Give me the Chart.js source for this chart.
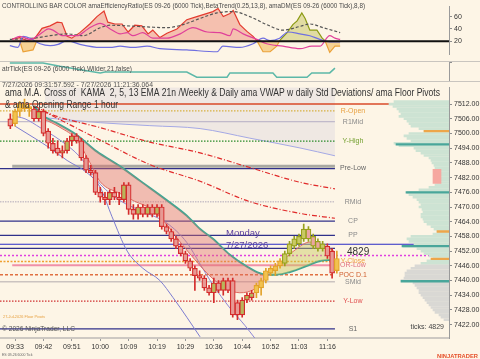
<!DOCTYPE html>
<html>
<head>
<meta charset="utf-8">
<script src="https://cdn.jsdelivr.net/npm/chart.js@4.4.0/dist/chart.umd.min.js"></script>
<style>
  html, body { margin: 0; padding: 0; background: #fdf5e6; }
  #wrap { position: relative; width: 480px; height: 359px; overflow: hidden; background: #fdf5e6; }
  canvas { position: absolute; left: 0; }
  .sep { position: absolute; left: 0; width: 480px; height: 1px; background: #c9c5bf; z-index: 2; }
</style>
</head>
<body>
<div id="wrap">
  <canvas id="indCanvas" width="480" height="61" style="top:0"></canvas>
  <div class="sep" style="top:61px"></div>
  <canvas id="atrCanvas" width="480" height="19" style="top:62px"></canvas>
  <div class="sep" style="top:81px"></div>
  <canvas id="mainCanvas" width="480" height="278" style="top:81px"></canvas>
</div>
<script>
const FONT = "'Liberation Sans', Arial, sans-serif";

// x is the bar number (one bar = 6000 ticks)
const xMin = -2.18;
const xMax = 92.7;
const sessionEndBar = 68.6;
const levelLabelBar = 72.4;

const xTickBars = [1, 7, 13, 19, 25, 31, 37, 43, 49, 55, 61, 67];
const xTickLabels = ['09:33', '09:42', '09:51', '10:00', '10:09', '10:19', '10:29', '10:36', '10:44', '10:52', '11:03', '11:16'];
const priceTicks = [7422, 7428, 7434, 7440, 7446, 7452, 7458, 7464, 7470, 7476, 7482, 7488, 7494, 7500, 7506, 7512];
const indicatorTicks = [20, 40, 60];

// candles
const opens  = [7506, 7504, 7509, 7512, 7510, 7510, 7506, 7509, 7501, 7496, 7494, 7492, 7493, 7497, 7499, 7497, 7490, 7485, 7484, 7476,
                7474, 7473, 7476, 7474, 7473, 7479, 7469, 7467, 7470, 7467, 7470, 7467, 7470, 7462, 7460, 7457, 7454, 7451, 7448, 7445,
                7442, 7441, 7437, 7435, 7439, 7436, 7440, 7440, 7431, 7426, 7432, 7433, 7435, 7437, 7440, 7443, 7444, 7446, 7447, 7451,
                7454, 7455, 7457, 7461, 7458, 7456, 7453, 7454, 7452, 7444];
const highs  = [7508, 7510, 7513, 7514, 7512, 7511, 7510, 7510, 7502, 7498, 7497, 7495, 7498, 7500, 7500, 7498, 7491, 7487, 7485, 7478,
                7476, 7477, 7478, 7476, 7480, 7480, 7471, 7471, 7471, 7471, 7471, 7471, 7471, 7463, 7461, 7458, 7455, 7452, 7449, 7446,
                7444, 7442, 7438, 7441, 7440, 7441, 7441, 7441, 7432, 7433, 7435, 7436, 7439, 7441, 7445, 7446, 7447, 7449, 7452, 7456,
                7458, 7459, 7463, 7462, 7459, 7457, 7456, 7455, 7453, 7452];
const lows   = [7502, 7503, 7507, 7509, 7507, 7505, 7505, 7499, 7494, 7492, 7491, 7490, 7492, 7495, 7496, 7489, 7484, 7483, 7475, 7472,
                7471, 7471, 7473, 7471, 7472, 7467, 7465, 7465, 7466, 7466, 7466, 7466, 7461, 7459, 7456, 7453, 7450, 7447, 7444, 7436,
                7440, 7436, 7434, 7431, 7435, 7434, 7435, 7425, 7424, 7425, 7431, 7432, 7433, 7434, 7439, 7442, 7442, 7445, 7446, 7450,
                7453, 7454, 7456, 7456, 7453, 7452, 7452, 7449, 7441, 7443];
const closes = [7503, 7509, 7512, 7510, 7511, 7506, 7509, 7500, 7496, 7493, 7492, 7493, 7497, 7499, 7497, 7490, 7485, 7484, 7476, 7474,
                7473, 7476, 7474, 7473, 7479, 7469, 7467, 7470, 7467, 7470, 7467, 7470, 7462, 7460, 7457, 7454, 7451, 7448, 7445, 7442,
                7441, 7437, 7435, 7439, 7436, 7440, 7436, 7426, 7426, 7432, 7434, 7435, 7438, 7440, 7444, 7445, 7446, 7448, 7451, 7455,
                7457, 7458, 7461, 7457, 7454, 7453, 7455, 7450, 7443, 7449];
// controlling bar colour: r = red, g = gold, o = olive
const barMode = ['r','g','g','g','g','r','r','r','r','r','r','r','r','r','r','r','r','r','r','r',
                 'r','r','r','r','r','r','r','r','r','r','r','r','r','r','r','r','r','r','r','r',
                 'r','r','r','r','r','r','r','r','r','r','r','r','g','g','g','g','g','g','o','o',
                 'o','o','o','o','o','o','o','r','r','g'];

// KAMA 21 (teal) and fast average
const emaBars   = [5.0, 6.9, 9.9, 14.1, 18.3, 23.2, 27.4, 33.1, 37.3, 40.1, 42.8, 46.4, 50.0, 53.4, 56.3, 59.1, 62.7, 65.4, 68.2];
const emaValues = [7511.2, 7507.2, 7504.1, 7499.3, 7492.6, 7486.6, 7480.7, 7472.7, 7466.4, 7461, 7457, 7450.5, 7445.7, 7442.6, 7442.4, 7443.5, 7446, 7448, 7448.5];
const fastBars   = [7.0, 10.5, 14.1, 16.8, 19.0, 23.2, 26.3, 29.5, 32.7, 35.9, 39.0, 42.2, 45.4, 48.5, 51.7, 53.8, 56.9, 60.2, 63.3, 66.5, 68.6];
const fastValues = [7506, 7502.5, 7497.3, 7488.2, 7480.3, 7475.5, 7472.3, 7469.5, 7463.6, 7455.7, 7448.5, 7441.8, 7437, 7435, 7436.6, 7440.6, 7446.9, 7452.5, 7455.7, 7454.1, 7451.7];

// VWAP bands
const bandUpBars   = [7.3, 19.0, 29.5, 40.1, 50.6, 61.2, 68.6];
const bandUpValues = [7506.4, 7504.4, 7503.2, 7502.0, 7498.1, 7494.1, 7490.9];
const bandLo1Bars   = [0.4, 3.1, 6.3, 10.5, 14.7, 19.0, 23.2, 27.4, 33.1, 37.3, 40.1, 42.8, 46.4, 49.6, 51.7];
const bandLo1Values = [7507.2, 7506.0, 7502.4, 7497.3, 7490.5, 7479.3, 7472.6, 7468.6, 7463.4, 7455.5, 7446.7, 7438.3, 7428.8, 7421.6, 7416.4];
const bandLo2Bars   = [1.0, 5.2, 8.4, 12.0, 16.2, 19.0, 21.5, 24.7, 28.0, 31.6, 34.4, 37.3, 40.1];
const bandLo2Values = [7503, 7498, 7494, 7489, 7484, 7478, 7466, 7452, 7445, 7440, 7433, 7425, 7417];
const devUpBars   = [5.2, 8.4, 19.0, 29.5, 40.1, 50.6, 61.2, 68.6];
const devUpValues = [7511.2, 7508.0, 7502.4, 7496.5, 7492.1, 7486.1, 7480.1, 7477.4];
const devLoBars   = [6.9, 19.0, 29.5, 40.1, 50.6, 61.2, 68.6];
const devLoValues = [7509.2, 7497.3, 7487.3, 7480.5, 7472.2, 7467.4, 7465.4];

// floor pivots and session levels
const levelNames  = ['', 'R-Open', 'R1Mid', 'Y-High', '', 'Pre-Low', 'RMid', 'CP', 'PP', '', '', '', 'Y-Close', 'OR-Low', 'POC D.1', 'SMid', 'Y-Low', 'S1'];
const levelPrices = [7512, 7509.2, 7504.8, 7496.9, 7486.6, 7485.7, 7472.1, 7464.2, 7458.4, 7454.8, 7453.1, 7450.2, 7447.8, 7446.2, 7442.4, 7439.5, 7431.6, 7420.3];

// volume profile, one row per point from the top
const profileTop = 7513;
const profileVolumes = [55, 60, 56, 52, 50, 48, 50, 45, 42, 40, 38, 30, 25, 40, 45, 42, 38, 55, 50, 35,
                        33, 28, 25, 20, 18, 17, 15, 14, 15, 14, 12, 10, 10, 12, 14, 20, 30, 42, 40, 36,
                        32, 30, 28, 30, 27, 26, 28, 28, 26, 25, 22, 18, 15, 12, 16, 38, 42, 40, 35, 46,
                        32, 28, 25, 20, 16, 22, 28, 34, 38, 42, 44, 44, 45, 48, 36, 34, 32, 30, 30, 28,
                        26, 24, 22, 20, 18, 16, 14, 10, 8, 5];
const valueAreaLow = 7447;
const pocPrices = [7495.6, 7476, 7454, 7439.7];
const pocVolumes = [53, 43, 47, 48];
const hvnPrices = [7501, 7460, 7448.8];
const hvnVolumes = [25, 12, 18];

// top panel: efficiency ratio / DM
const erBars   = [0.4, 2.0, 3.5, 5.2, 6.7, 8.4, 9.9, 10.9, 12.0, 13.0, 14.7, 16.8, 18.3, 19.8, 20.6, 22.1, 23.6, 24.9, 26.3, 27.8,
                  29.1, 30.1, 31.6, 33.1, 35.2, 37.3, 39.4, 42.8, 43.9, 45.0, 46.4, 47.1, 48.5, 50.0, 51.3, 52.1];
const erValues = [24, 26, 21, 25, 41, 45, 51, 50, 28, 25, 34, 48, 60, 69, 51, 48, 48, 35, 46, 45,
                  32, 38, 26, 33, 40, 55, 60, 68, 73, 60, 65, 70, 47, 36, 28, 21];
const dmBars   = [2.0, 2.7, 4.8, 5.6, 30, 52.1, 53.4, 54.9, 56.3, 56.9, 58.5, 59.7, 60.6, 61.6, 62.3, 63.3, 64.8, 65.9, 66.5, 67.5, 68.6, 69.7];
const dmValues = [20, 3, 6, 21, null, 21, 3, 3, 12, 21, 34, 47, 53, 66, 57, 38, 38, 25, 21, 2, 12, 12];
const pdiBars   = [0.4, 2.0, 4.2, 5.6, 6.9, 8.0, 9.0, 11.1, 14.1, 16.4, 19.0, 21.1, 23.2, 24.7, 25.9, 28.0, 30.1, 33.1, 35.9, 38.6,
                   41.6, 44.3, 46.4, 47.1, 49.2, 52.1, 54.2, 57.6, 61.2, 63.7, 65.4, 67.5, 68.6, 69.7];
const pdiValues = [23, 28, 23, 28, 35, 40, 38, 29, 29, 40, 49, 40, 32, 34, 29, 34, 25, 25, 32, 42,
                   35, 34, 29, 40, 32, 23, 16, 12, 8, 12, 12, 29, 25, 23];
const mdiBars   = [-0.1, 1.6, 2.7, 4.2, 6.3, 8.4, 10.1, 12.0, 14.7, 19.0, 21.1, 23.2, 25.9, 28.9, 31.6, 37.3, 43.7, 44.9, 48.5, 51.3,
                   53.4, 54.9, 56.9, 58.7, 61.2, 63.3, 65.4, 67.5, 69.7];
const mdiValues = [13, 10, 28, 25, 16, 13, 15, 21, 15, 10, 10, 12, 10, 12, 8, 6, 3, 12, 10, 16,
                   25, 21, 25, 35, 32, 29, 23, 19, 19];
const adxBars   = [-0.1, 4.8, 8.4, 12.0, 15.4, 19.0, 21.1, 24.7, 29.5, 33.1, 36.5, 40.1, 43.7, 47.1, 50.6, 54.2, 57.6, 61.2, 63.3, 66.1, 69.7];
const adxValues = [23, 25, 29, 32, 29, 42, 46, 45, 43, 42, 47, 57, 66, 68, 60, 47, 38, 44, 48, 42, 34];

// atr panel
const atrBars   = [-0.1, 6.9, 10.5, 15.8, 19.0, 20.0, 21.1, 37.3, 39.4, 45.8, 46.4, 55.5, 56.3, 62.7, 63.7, 67.5, 68.6];
const atrValues = [16.8, 16.8, 16.1, 15.2, 14.7, 14.9, 14.9, 14.9, 13.8, 13.8, 14.7, 14.7, 13.8, 13.8, 14.7, 14.7, 15.7];

Chart.defaults.font.family = FONT;
Chart.defaults.animation = false;
Chart.defaults.events = [];

const palette = {
  r: { border: '#d42c2c', up: '#b9b55a', down: '#e79a94' },
  g: { border: '#e2a22a', up: '#f2c24e', down: '#eab04a' },
  o: { border: '#98a01c', up: '#c9c964', down: '#eaa6a0' }
};

function pts(xs, ys) { return xs.map((x, i) => ({ x: x, y: ys[i] })); }

function curve(xs, ys, extra) {
  return Object.assign({
    type: 'line', data: pts(xs, ys), pointRadius: 0, borderWidth: 1, fill: false,
    cubicInterpolationMode: 'monotone', spanGaps: false
  }, extra);
}

function rightAxis(extra) {
  return Object.assign({
    position: 'right', offset: false,
    afterFit: s => { s.width = 31; },
    grid: { drawOnChartArea: false, tickLength: 3, color: '#8c8c8c', offset: false },
    border: { color: '#9a9a9a' },
    ticks: { font: { size: 7 }, color: '#333', padding: 2 }
  }, extra);
}

function hiddenX() {
  return { type: 'linear', min: xMin, max: xMax, display: false, offset: false };
}

function textPlugin(id, items) {
  return {
    id: id,
    afterDatasetsDraw(chart) {
      const ctx = chart.ctx;
      ctx.save();
      items.forEach(t => {
        ctx.font = t.font;
        ctx.fillStyle = t.color;
        ctx.textAlign = t.align || 'left';
        ctx.textBaseline = 'middle';
        if (t.maxWidth) ctx.fillText(t.text, t.x, t.y, t.maxWidth);
        else ctx.fillText(t.text, t.x, t.y);
      });
      ctx.restore();
    }
  };
}

const baseOptions = {
  responsive: false,
  devicePixelRatio: 1,
  layout: { padding: 0 },
  plugins: { legend: { display: false }, tooltip: { enabled: false } }
};

// ---------- top indicator panel ----------
new Chart(document.getElementById('indCanvas'), {
  type: 'line',
  data: {
    datasets: [
      curve([xMin, xMax], [20, 20], { borderColor: '#111', borderWidth: 2, order: 0, cubicInterpolationMode: 'default' }),
      curve(pdiBars, pdiValues, { borderColor: '#e0409a', borderWidth: 1.2, order: 1 }),
      curve(mdiBars, mdiValues, { borderColor: '#6f6fe0', borderWidth: 1.2, order: 2 }),
      curve(adxBars, adxValues, { borderColor: '#555', borderWidth: 1.2, borderDash: [3, 2], order: 3 }),
      curve(erBars, erValues, {
        borderColor: '#e43a2e', borderWidth: 1.2, order: 4, cubicInterpolationMode: 'default',
        fill: { target: { value: 20 }, above: 'rgba(238,140,120,0.5)', below: 'rgba(0,0,0,0)' }
      }),
      curve(dmBars, dmValues, {
        borderWidth: 1.2, order: 5, cubicInterpolationMode: 'default',
        segment: { borderColor: c => ((c.p0.parsed.y + c.p1.parsed.y) / 2 >= 20 ? '#8c9a14' : '#eba23a') },
        fill: { target: { value: 20 }, above: 'rgba(190,190,80,0.45)', below: 'rgba(240,180,80,0.55)' }
      })
    ]
  },
  options: Object.assign({}, baseOptions, {
    scales: {
      x: hiddenX(),
      y: rightAxis({
        min: -1.9, max: 76.8,
        afterBuildTicks: s => { s.ticks = indicatorTicks.map(v => ({ value: v })); }
      })
    }
  }),
  plugins: [textPlugin('indText', [
    { text: 'CONTROLLING BAR COLOR amaEfficiencyRatio(ES 09-26 (6000 Tick),BetaTrend(0.25,13,8), amaDM(ES 09-26 (6000 Tick),8,8)',
      x: 2, y: 6, font: '7px ' + FONT, color: '#4a4a4a', maxWidth: 363 }
  ])]
});

// ---------- ATR panel ----------
new Chart(document.getElementById('atrCanvas'), {
  type: 'line',
  data: {
    datasets: [
      curve(atrBars, atrValues, { borderColor: '#5cb8a8', borderWidth: 1.5, cubicInterpolationMode: 'default' })
    ]
  },
  options: Object.assign({}, baseOptions, {
    scales: {
      x: hiddenX(),
      y: rightAxis({ min: 13, max: 17, ticks: { display: false } })
    }
  }),
  plugins: [textPlugin('atrText', [
    { text: 'atrTick(ES 09-26 (6000 Tick),Wilder,21,false)', x: 2, y: 7, font: '7px ' + FONT, color: '#4a4a4a', maxWidth: 130 }
  ])]
});

// ---------- price panel ----------
const levelStyles = [
  { color: '#d84a28', width: 1.5, to: xMax },
  { color: '#d8b040', width: 1.2, dash: [1.5, 1.5], label: '#e8a040' },
  { color: '#b4aec4', width: 1, label: '#8a8a8a' },
  { color: '#2a8a2a', width: 1.2, dash: [1.5, 1.5], label: '#74a030' },
  { color: '#a9a9a2', width: 3, from: 0.4 },
  { color: '#30308a', width: 1.2, label: '#666' },
  { color: '#cac2c8', width: 1.5, dash: [1.5, 1], label: '#8a8a8a' },
  { color: '#30308a', width: 1.2, label: '#8a8a8a' },
  { color: '#30308a', width: 1.2, label: '#8a8a8a' },
  { color: '#2a2ac4', width: 1.2, to: xMax },
  { color: '#30308a', width: 1.2 },
  { color: '#e040e0', width: 1.5, dash: [2, 2], to: xMax },
  { color: '#f0a030', width: 1.5, dash: [2, 1.5], label: '#f0a040' },
  { color: '#f090a8', width: 2, from: 0.4, label: '#e07080' },
  { color: '#e07040', width: 1.5, dash: [3, 2], label: '#d06030' },
  { color: '#cbc3c0', width: 1.5, label: '#8a8a8a' },
  { color: '#d03030', width: 1.2, dash: [1.5, 1.5], label: '#e05050' },
  { color: '#30308a', width: 1.2, label: '#666' }
];

const mainSets = [];

// candle bodies and wicks
mainSets.push({
  type: 'bar', order: 0, grouped: false, barThickness: 5, borderSkipped: false, borderWidth: 1.2,
  data: opens.map((o, i) => ({ x: i, y: [o, closes[i]] })),
  backgroundColor: opens.map((o, i) => closes[i] >= o ? palette[barMode[i]].up : palette[barMode[i]].down),
  borderColor: barMode.map(m => palette[m].border)
});
mainSets.push({
  type: 'bar', order: 1, grouped: false, barThickness: 1, borderWidth: 0,
  data: lows.map((l, i) => ({ x: i, y: [l, highs[i]] })),
  backgroundColor: barMode.map(m => palette[m].border)
});

// moving averages with cloud
const emaIndex = mainSets.length;
mainSets.push(curve(emaBars, emaValues, { borderColor: '#3aa696', borderWidth: 2, order: 3 }));
mainSets.push(curve(fastBars, fastValues, {
  borderColor: '#de6a62', borderWidth: 1, order: 2,
  fill: { target: emaIndex, above: 'rgba(200,200,90,0.45)', below: 'rgba(225,110,105,0.42)' }
}));

// volume profile
mainSets.push({
  type: 'bar', indexAxis: 'y', xAxisID: 'xv', yAxisID: 'y', order: 6, grouped: false, barThickness: 2, borderWidth: 0,
  data: profileVolumes.map((v, k) => ({ x: v, y: profileTop - k })),
  backgroundColor: profileVolumes.map((v, k) => (profileTop - k >= valueAreaLow ? '#cde3d3' : '#d9d8d4'))
});
mainSets.push({
  type: 'bar', indexAxis: 'y', xAxisID: 'xv', yAxisID: 'y', order: 5, grouped: false, barThickness: 1.6, borderWidth: 0,
  data: pts(pocVolumes, pocPrices), backgroundColor: '#49a69a'
});
mainSets.push({
  type: 'bar', indexAxis: 'y', xAxisID: 'xv', yAxisID: 'y', order: 5, grouped: false, barThickness: 1.6, borderWidth: 0,
  data: pts(hvnVolumes, hvnPrices), backgroundColor: '#eda64a'
});
mainSets.push({
  type: 'bar', indexAxis: 'y', xAxisID: 'xv', yAxisID: 'y', order: 5, grouped: false, barThickness: 14, borderWidth: 0,
  data: [{ x: [8, 16], y: 7482.5 }], backgroundColor: '#f6a8a0'
});

// vwap deviation lines and bands
mainSets.push(curve(devUpBars, devUpValues, { borderColor: '#e02a2a', borderWidth: 1.2, borderDash: [5, 2, 1, 2], order: 7 }));
mainSets.push(curve(devLoBars, devLoValues, { borderColor: '#e02a2a', borderWidth: 1.2, borderDash: [5, 2, 1, 2], order: 7 }));
mainSets.push(curve(bandLo1Bars, bandLo1Values, { borderColor: '#8c86d6', borderWidth: 1, order: 8 }));
mainSets.push(curve(bandLo2Bars, bandLo2Values, { borderColor: '#7c7cd0', borderWidth: 1, order: 8 }));
mainSets.push(curve(bandUpBars, bandUpValues, {
  borderColor: '#a4a8e4', borderWidth: 1, order: 10, fill: 'end', backgroundColor: '#efe8e3'
}));

// horizontal levels
levelPrices.forEach((p, k) => {
  const st = levelStyles[k];
  mainSets.push({
    type: 'line', order: 9, pointRadius: 0,
    data: [{ x: st.from !== undefined ? st.from : xMin, y: p }, { x: st.to !== undefined ? st.to : sessionEndBar, y: p }],
    borderColor: st.color, borderWidth: st.width, borderDash: st.dash || []
  });
});

const levelLabels = {
  id: 'levelLabels',
  afterDatasetsDraw(chart) {
    const ctx = chart.ctx, xs = chart.scales.x, ys = chart.scales.y;
    ctx.save();
    ctx.font = '7px ' + FONT;
    ctx.textAlign = 'center';
    ctx.textBaseline = 'middle';
    levelNames.forEach((name, k) => {
      if (!name) return;
      ctx.fillStyle = levelStyles[k].label || '#777';
      ctx.fillText(name, xs.getPixelForValue(levelLabelBar), ys.getPixelForValue(levelPrices[k]));
    });
    ctx.restore();
  }
};

new Chart(document.getElementById('mainCanvas'), {
  type: 'line',
  data: { datasets: mainSets },
  options: Object.assign({}, baseOptions, {
    scales: {
      x: {
        type: 'linear', min: xMin, max: xMax, offset: false, stacked: false,
        afterBuildTicks: s => { s.ticks = xTickBars.map(v => ({ value: v })); },
        afterFit: s => { s.height = 21; },
        grid: { drawOnChartArea: false, tickLength: 3, color: '#9a9a9a', offset: false },
        border: { color: '#cdc8c2', width: 2 },
        ticks: { autoSkip: false, maxRotation: 0, font: { size: 7 }, color: '#333', padding: 2,
                 callback: v => xTickLabels[xTickBars.indexOf(v)] }
      },
      xv: { type: 'linear', min: 0, max: 449, reverse: true, display: false, offset: false, stacked: false },
      y: rightAxis({
        min: 7416.54, max: 7518.89, stacked: false, beginAtZero: false,
        afterBuildTicks: s => { s.ticks = priceTicks.map(v => ({ value: v })); },
        ticks: { font: { size: 7 }, color: '#333', padding: 2, callback: v => v.toFixed(2) }
      })
    }
  }),
  plugins: [levelLabels, textPlugin('mainText', [
    { text: '7/27/2026 09:31:57.592 - 7/27/2026 11:21:36.064', x: 2, y: 4, font: '7.5px ' + FONT, color: '#555', maxWidth: 151 },
    { text: 'ama M.A. Cross of  KAMA  2, 5, 13 EMA 21n /Weekly & Daily ama VWAP w daily Std Deviations/ ama Floor Pivots',
      x: 5, y: 12, font: '10px ' + FONT, color: '#333', maxWidth: 435 },
    { text: '& ama Opening Range 1 hour', x: 5, y: 24, font: '10px ' + FONT, color: '#333', maxWidth: 113 },
    { text: 'Monday', x: 226, y: 152, font: '9.5px ' + FONT, color: '#5b3f9c' },
    { text: '7/27/2026', x: 226, y: 164, font: '9.5px ' + FONT, color: '#5b3f9c' },
    { text: '4829', x: 347, y: 171, font: '10px ' + FONT, color: '#333' },
    { text: 'ticks: 4829', x: 444, y: 246, font: '7px ' + FONT, color: '#444', align: 'right' },
    { text: '27-Jul-2026 Floor Pivots', x: 3, y: 236, font: '4px ' + FONT, color: '#e6a040', maxWidth: 42 },
    { text: '\u00a9 2026 NinjaTrader, LLC', x: 2, y: 248, font: '7.5px ' + FONT, color: '#555', maxWidth: 73 },
    { text: 'ES 09-26 6000 Tick', x: 2, y: 274, font: '3.5px ' + FONT, color: '#666' },
    { text: 'NINJATRADER', x: 478, y: 275, font: 'bold 6px ' + FONT, color: '#e6502a', align: 'right', maxWidth: 41 }
  ])]
});
</script>
</body>
</html>
